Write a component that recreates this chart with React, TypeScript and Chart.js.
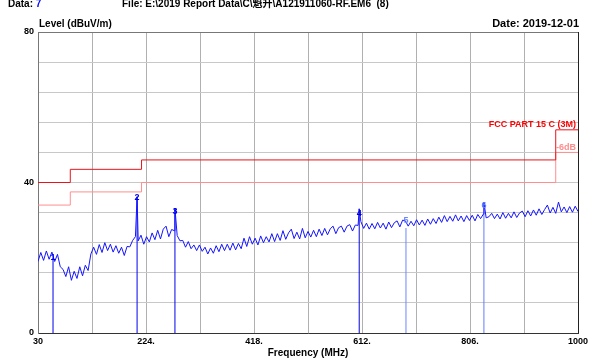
import React, { useEffect, useRef } from 'react';
import { Chart, registerables } from 'chart.js';

Chart.register(...registerables);

// ---- data ----
const FREQ_START = 30;
const FREQ_STEP = 5;
const LEVELS = [
  19.0, 21.4, 19.3, 21.8, 19.6, 21.5, 19.0, 20.9, 17.6, 16.9,
  15.0, 17.6, 14.0, 16.4, 14.5, 17.6, 15.2, 18.0, 16.6, 21.0,
  22.8, 20.9, 23.5, 21.4, 24.0, 21.9, 23.6, 21.5, 23.2, 21.2,
  22.8, 20.6, 23.0, 22.9, 24.6, 25.6, 24.5, 26.0, 23.6, 25.6,
  24.2, 26.6, 24.8, 27.3, 25.0, 27.6, 28.4, 25.6, 27.5, 27.2,
  25.9, 24.5, 24.6, 22.8, 24.3, 22.4, 23.4, 21.9, 23.4, 21.7,
  22.8, 21.0, 22.6, 21.2, 23.2, 21.6, 23.6, 21.9, 23.6, 22.0,
  23.9, 22.1, 23.8, 22.4, 25.2, 23.0, 25.6, 23.6, 25.2, 23.4,
  25.8, 24.0, 25.6, 24.2, 26.4, 24.3, 26.4, 24.6, 27.2, 24.9,
  26.6, 27.6, 25.1, 26.8, 25.0, 27.8, 25.3, 27.0, 25.5, 27.3,
  25.6, 27.6, 25.9, 27.8, 26.1, 27.7, 28.4, 26.4, 28.0, 28.4,
  26.8, 28.4, 28.8, 27.1, 28.7, 28.6, 29.6, 27.8, 29.2, 27.6,
  29.1, 27.7, 29.4, 27.9, 29.2, 27.6, 29.5, 28.0, 29.3, 29.8,
  28.2, 30.0, 29.8, 28.4, 29.7, 28.5, 30.1, 28.7, 30.0, 28.6,
  30.3, 28.9, 30.4, 29.1, 30.8, 29.4, 31.2, 29.6, 31.0, 29.7,
  31.4, 29.8, 31.1, 29.6, 31.2, 29.9, 31.3, 29.8, 31.5, 30.4,
  31.6, 30.6, 30.9, 31.8, 30.4, 31.6, 30.3, 32.0, 30.5, 31.8,
  30.6, 32.2, 30.7, 31.9, 32.4, 30.9, 32.5, 31.1, 32.7, 31.3,
  33.0, 31.5, 32.8, 34.0, 31.9, 33.4, 31.8, 34.8, 32.2, 33.5,
  32.0, 33.6, 32.1, 33.7, 32.3,
];
const PEAK_FREQ = [208, 276, 607, 691, 831];
const PEAK_LEVEL = [36.2, 33.2, 33.0, 29.8, 34.8];

const LIMIT_FREQ = [30, 88, 216, 960, 1000];
const LIMIT_LEVEL = [40, 43.5, 46, 54, 54];
const MARGIN_LEVEL = [34, 37.5, 40, 48, 48];

const MARKER_TEXT = ['1', '2', '3', '4', '5', '6'];
const MARKER_FREQ = [57, 208, 276, 607, 691, 831];
const MARKER_LEVEL = [20, 36.2, 33.2, 33.0, 27.9, 34.8];
const MARKER_TEXT_LEVEL = [20, 36.0, 32.2, 31.8, 29.8, 33.9];
const MARKER_COLOR = ['#0000ee', '#0000ee', '#0000ee', '#0000dd', '#6a86ff', '#5f7cff'];

const X_TICK_VALUES = [30, 224, 418, 612, 806, 1000];
const X_TICK_LABELS = ['30', '224.', '418.', '612.', '806.', '1000'];
const Y_TICK_VALUES = [0, 40, 80];
const Y_TICK_LABELS = ['0', '40', '80'];

const FONT = '"Liberation Sans", Arial, "Noto Sans CJK SC", sans-serif';

export default function App() {
  const ref = useRef<HTMLCanvasElement | null>(null);

  useEffect(() => {
    const canvas = ref.current;
    if (!canvas) return;

    const trace: { x: number; y: number }[] = LEVELS.map((v, i) => ({ x: FREQ_START + i * FREQ_STEP, y: v }));
    PEAK_FREQ.forEach((f, i) => trace.push({ x: f, y: PEAK_LEVEL[i] }));
    trace.sort((a, b) => a.x - b.x);

    const markerSets = MARKER_FREQ.map((f, i) => ({
      data: [{ x: f, y: 0 }, { x: f, y: MARKER_LEVEL[i] }],
      borderColor: MARKER_COLOR[i],
      borderWidth: 1,
      pointRadius: 0,
    }));

    const overlay = {
      id: 'overlay',
      afterDatasetsDraw(chart: any) {
        const { ctx, chartArea, scales } = chart;
        const xs = scales.x;
        const ys = scales.y;
        ctx.save();
        // frame
        ctx.strokeStyle = '#222';
        ctx.lineWidth = 1;
        ctx.beginPath();
        ctx.moveTo(chartArea.right + 0.5, chartArea.top);
        ctx.lineTo(chartArea.right + 0.5, chartArea.bottom);
        ctx.stroke();
        ctx.strokeStyle = '#777';
        ctx.beginPath();
        ctx.moveTo(chartArea.left, chartArea.top + 0.5);
        ctx.lineTo(chartArea.right, chartArea.top + 0.5);
        ctx.stroke();

        // marker labels
        ctx.font = 'bold 9px ' + FONT;
        ctx.textAlign = 'center';
        ctx.textBaseline = 'middle';
        MARKER_TEXT.forEach((t, i) => {
          ctx.fillStyle = MARKER_COLOR[i];
          ctx.fillText(t, xs.getPixelForValue(MARKER_FREQ[i]), ys.getPixelForValue(MARKER_TEXT_LEVEL[i]));
        });

        // limit labels
        ctx.textAlign = 'right';
        ctx.textBaseline = 'alphabetic';
        ctx.font = 'bold 9px ' + FONT;
        ctx.fillStyle = '#ff0000';
        ctx.fillText('FCC PART 15 C (3M)', chartArea.right - 2, ys.getPixelForValue(54) - 3);
        ctx.fillStyle = '#ff8c8c';
        ctx.fillText('-6dB', chartArea.right - 2, ys.getPixelForValue(48) - 2);

        // header
        ctx.textAlign = 'left';
        ctx.font = 'bold 10px ' + FONT;
        ctx.fillStyle = '#000';
        ctx.fillText('Data: ', 8, 6.5);
        const w = ctx.measureText('Data: ').width;
        ctx.fillStyle = '#0000ff';
        ctx.fillText('7', 8 + w, 6.5);
        ctx.fillStyle = '#000';
        ctx.fillText('File: E:\\2019 Report Data\\C\\魁升\\A121911060-RF.EM6  (8)', 122, 6.5);
        ctx.fillText('Level (dBuV/m)', 39, 27);
        ctx.textAlign = 'right';
        ctx.font = 'bold 11px ' + FONT;
        ctx.fillText('Date: 2019-12-01', 579, 27);
        ctx.restore();
      },
    };

    const chart = new Chart(canvas, {
      type: 'line',
      data: {
        datasets: [
          {
            data: LIMIT_FREQ.map((f, i) => ({ x: f, y: LIMIT_LEVEL[i] })),
            stepped: true,
            borderColor: '#e8141c',
            borderWidth: 1,
            pointRadius: 0,
          },
          {
            data: LIMIT_FREQ.map((f, i) => ({ x: f, y: MARGIN_LEVEL[i] })),
            stepped: true,
            borderColor: '#ff8e8e',
            borderWidth: 1,
            pointRadius: 0,
          },
          {
            data: trace,
            borderColor: '#1414ff',
            borderWidth: 1,
            pointRadius: 0,
            tension: 0,
          },
          ...markerSets,
        ] as any,
      },
      options: {
        animation: false,
        responsive: false,
        devicePixelRatio: 1,
        layout: { padding: { top: 32, right: 18, left: 0, bottom: 0 } },
        plugins: { legend: { display: false }, tooltip: { enabled: false } },
        scales: {
          x: {
            type: 'linear',
            min: 30,
            max: 1000,
            afterFit: (s: any) => { s.height = 30; },
            ticks: {
              stepSize: 97,
              autoSkip: false,
              maxRotation: 0,
              padding: 3,
              color: '#000',
              font: { family: FONT, size: 9, weight: 'bold' },
              callback: (v: any) => {
                const k = X_TICK_VALUES.indexOf(Math.round(Number(v)));
                return k >= 0 ? X_TICK_LABELS[k] : '';
              },
            },
            grid: { color: '#b0b0b0', lineWidth: 1, drawTicks: false },
            border: { color: '#333', width: 1 },
            title: {
              display: true,
              text: 'Frequency (MHz)',
              color: '#000',
              font: { family: FONT, size: 10, weight: 'bold' },
              padding: { top: 0, bottom: 4 },
            },
          },
          y: {
            type: 'linear',
            min: 0,
            max: 80,
            afterFit: (s: any) => { s.width = 38; },
            ticks: {
              stepSize: 8,
              autoSkip: false,
              padding: 4,
              color: '#000',
              font: { family: FONT, size: 9, weight: 'bold' },
              callback: (v: any) => {
                const k = Y_TICK_VALUES.indexOf(Math.round(Number(v)));
                return k >= 0 ? Y_TICK_LABELS[k] : '';
              },
            },
            grid: { color: '#c8c8c8', lineWidth: 1, drawTicks: false },
            border: { color: '#777', width: 1 },
          },
        },
      } as any,
      plugins: [overlay],
    });

    return () => chart.destroy();
  }, []);

  return (
    <div style={{ position: 'absolute', left: 0, top: 0, width: 596, height: 363, background: '#fff' }}>
      <canvas ref={ref} width={596} height={363} style={{ display: 'block', width: 596, height: 363 }} />
    </div>
  );
}
